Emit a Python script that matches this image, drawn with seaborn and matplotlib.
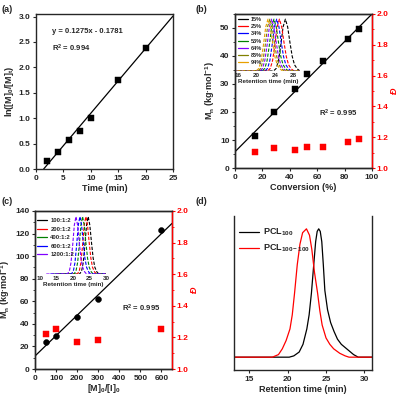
import numpy as np
import pandas as pd
import matplotlib
matplotlib.use("Agg")
import matplotlib.pyplot as plt
from matplotlib.lines import Line2D
from matplotlib.ticker import MultipleLocator
import seaborn as sns

# ---------------- data ----------------
# (a) kinetics
time_min = [2, 4, 6, 8, 10, 15, 20]
ln_m0_mt = [0.15, 0.33, 0.57, 0.74, 1.00, 1.75, 2.38]
fit_a_x = [1.4, 25]
fit_a_y = [0.1275 * 1.4 - 0.1781, 0.1275 * 25 - 0.1781]

# (b) Mn & dispersity vs conversion
conv = [14.6, 28.5, 43.8, 52.3, 64.0, 82.3, 90.5]
mn_b = [11.5, 20.1, 28.2, 33.6, 38.2, 46.2, 49.5]
disp_b = [1.106, 1.13, 1.119, 1.138, 1.138, 1.171, 1.19]
fit_b_x = [0, 100]
fit_b_y = [5.8, 55.0]

# (b) inset GPC traces
inset_b_labels = ["15%", "25%", "34%", "53%", "64%", "83%", "94%"]
inset_b_colors = ["black", "red", "blue", "green", "#8000ff", "#808000", "#e8a000"]
inset_b_peaks = [26.3, 25.0, 24.4, 23.8, 23.3, 22.9, 22.5]

# (c) Mn & dispersity vs [M]0/[I]0
ratio = [50, 100, 200, 300, 600]
mn_c = [24.2, 29.5, 45.8, 62.3, 123.4]
disp_c = [1.223, 1.253, 1.173, 1.184, 1.253]
fit_c_x = [0, 650]
fit_c_y = [11.5, 129.0]

inset_c_labels = ["100:1:2", "200:1:2", "400:1:2", "600:1:2", "1200:1:2"]
inset_c_colors = ["black", "red", "green", "blue", "#8000ff"]
inset_c_peaks = [24.6, 23.9, 22.9, 22.1, 20.9]

# shared normalised GPC peak profile
prof_dx = [-9, -2.6, -2.0, -1.5, -1.0, -0.5, 0.0, 0.5, 1.0, 1.5, 2.0, 2.6, 3.2, 9]
prof_y = [0, 0, 0.05, 0.2, 0.5, 0.85, 1.0, 0.85, 0.55, 0.28, 0.12, 0.04, 0, 0]

# (d) GPC traces
t_pcl100 = [13, 20.2, 20.8, 21.5, 22.0, 22.5, 22.8, 23.1, 23.4, 23.65, 23.85, 24.05,
            24.25, 24.45, 24.65, 24.85, 25.2, 25.6, 26.05, 26.5, 27.0, 27.8, 28.6, 29.2, 31]
y_pcl100 = [0, 0, 0.01, 0.04, 0.10, 0.22, 0.33, 0.5, 0.72, 0.9, 0.98, 1.0,
            0.98, 0.9, 0.72, 0.52, 0.37, 0.27, 0.2, 0.14, 0.1, 0.06, 0.02, 0, 0]
t_pcl200 = [13, 18.0, 18.8, 19.3, 19.8, 20.3, 20.6, 20.9, 21.25, 21.6, 21.95, 22.45,
            22.85, 23.15, 23.5, 23.9, 24.2, 24.5, 25.0, 25.5, 26.0, 26.8, 27.5, 28.0, 31]
y_pcl200 = [0, 0, 0.02, 0.065, 0.13, 0.22, 0.33, 0.5, 0.72, 0.88, 0.97, 1.0,
            0.95, 0.84, 0.66, 0.5, 0.36, 0.25, 0.15, 0.1, 0.065, 0.03, 0.01, 0, 0]

# ---------------- style ----------------
sns.set_style("ticks")
plt.rcParams["font.family"] = ["Liberation Sans", "DejaVu Sans"]
plt.rcParams["font.weight"] = "bold"
plt.rcParams["axes.labelweight"] = "bold"
plt.rcParams["xtick.direction"] = "out"
plt.rcParams["ytick.direction"] = "out"
plt.rcParams["axes.linewidth"] = 1.0
plt.rcParams["mathtext.default"] = "regular"

W, H = 400, 395
fig = plt.figure(figsize=(W / 100, H / 100), dpi=100)


def px_axes(left, right, top, bottom):
    return fig.add_axes([left / W, 1 - bottom / H, (right - left) / W, (bottom - top) / H])


TICK_FS = 6
LAB_FS = 6.5


def style_ax(ax):
    ax.tick_params(labelsize=TICK_FS, length=2.5, width=0.8, pad=1.5)
    ax.tick_params(which="minor", length=1.5, width=0.6)
    for lab in ax.get_xticklabels() + ax.get_yticklabels():
        lab.set_fontweight("bold")


# ---------------- (a) ----------------
axa = px_axes(36, 173, 14, 169)
sns.lineplot(x=fit_a_x, y=fit_a_y, ax=axa, color="black", lw=0.9)
sns.scatterplot(x=time_min, y=ln_m0_mt, ax=axa, marker="s", color="black", s=16, edgecolor="black")
axa.set_xlim(0, 25)
axa.set_ylim(0, 3.05)
axa.xaxis.set_major_locator(MultipleLocator(5))
axa.yaxis.set_major_locator(MultipleLocator(0.5))
axa.set_xlabel("Time (min)", fontsize=LAB_FS, labelpad=1.5)
axa.set_ylabel("ln([M]$_0$/[M]$_t$)", fontsize=LAB_FS, labelpad=2)
axa.text(2.9, 2.71, "y = 0.1275x - 0.1781", fontsize=5.5, fontweight="bold", va="center")
axa.text(2.9, 2.38, "R$^2$ = 0.994", fontsize=5.5, fontweight="bold", va="center")
style_ax(axa)

# ---------------- (b) ----------------
axb = px_axes(235, 372, 14, 168)
sns.lineplot(x=fit_b_x, y=fit_b_y, ax=axb, color="black", lw=0.9)
sns.scatterplot(x=conv, y=mn_b, ax=axb, marker="s", color="black", s=16, edgecolor="black", zorder=3)
axb.set_xlim(0, 100)
axb.set_ylim(0, 55)
axb.xaxis.set_major_locator(MultipleLocator(20))
axb.yaxis.set_major_locator(MultipleLocator(10))
axb.yaxis.set_minor_locator(MultipleLocator(5))
axb.set_xlabel("Conversion (%)", fontsize=LAB_FS, labelpad=1.5)
axb.set_ylabel("$M_n$ (kg·mol$^{-1}$)", fontsize=LAB_FS, labelpad=2)
axb.text(61, 19.6, "R$^2$ = 0.995", fontsize=5.5, fontweight="bold", va="center")
style_ax(axb)
axb2 = axb.twinx()
sns.scatterplot(x=conv, y=disp_b, ax=axb2, marker="s", color="red", s=16, edgecolor="red")
axb2.set_ylim(1.0, 2.0)
axb2.yaxis.set_major_locator(MultipleLocator(0.2))
axb2.yaxis.set_minor_locator(MultipleLocator(0.1))
axb2.set_ylabel("Đ", fontsize=LAB_FS, color="red", style="italic", labelpad=0.5)
axb2.spines["right"].set_color("red")
axb2.tick_params(axis="y", colors="red", which="both")
style_ax(axb2)
axb2.tick_params(axis="y", pad=1)
axb2.set_xlim(0, 100)

# (b) inset
axbi = px_axes(236, 300, 15, 71)
for lab, col, pk in zip(inset_b_labels, inset_b_colors, inset_b_peaks):
    xs = [pk + d for d in prof_dx]
    sns.lineplot(x=xs, y=prof_y, ax=axbi, color=col, lw=0.8, linestyle=(0, (3, 1.5)))
axbi.set_xlim(15.5, 29.5)
axbi.set_ylim(0, 1.08)
axbi.set_xticks([16, 20, 24, 28])
axbi.set_yticks([])
for s in axbi.spines.values():
    s.set_visible(False)
axbi.patch.set_alpha(0)
axbi.tick_params(axis="x", length=0, labelsize=4.5, pad=1.5)
axbi.set_xlabel("Retention time (min)", fontsize=4.5, labelpad=1)
hb = [Line2D([], [], color=c, lw=0.9) for c in inset_b_colors]
axbi.legend(hb, inset_b_labels, loc="upper left", bbox_to_anchor=(-0.02, 1.02), frameon=False,
            fontsize=4.0, handlelength=1.8, labelspacing=0.38, handletextpad=0.5, borderpad=0.1)

# ---------------- (c) ----------------
axc = px_axes(35, 172, 211, 369)
sns.lineplot(x=fit_c_x, y=fit_c_y, ax=axc, color="black", lw=0.9)
sns.scatterplot(x=ratio, y=mn_c, ax=axc, marker="o", color="black", s=18, edgecolor="black", zorder=3)
axc.set_xlim(0, 650)
axc.set_ylim(0, 140)
axc.xaxis.set_major_locator(MultipleLocator(100))
axc.yaxis.set_major_locator(MultipleLocator(20))
axc.yaxis.set_minor_locator(MultipleLocator(10))
axc.set_xlabel("[M]$_0$/[I]$_0$", fontsize=LAB_FS, labelpad=0.5)
axc.set_ylabel("$M_n$ (kg·mol$^{-1}$)", fontsize=LAB_FS, labelpad=2)
axc.text(413, 54, "R$^2$ = 0.995", fontsize=5.5, fontweight="bold", va="center")
style_ax(axc)
axc2 = axc.twinx()
sns.scatterplot(x=ratio, y=disp_c, ax=axc2, marker="s", color="red", s=16, edgecolor="red")
axc2.set_ylim(1.0, 2.0)
axc2.yaxis.set_major_locator(MultipleLocator(0.2))
axc2.yaxis.set_minor_locator(MultipleLocator(0.1))
axc2.set_ylabel("Đ", fontsize=LAB_FS, color="red", style="italic", labelpad=0.5)
axc2.spines["right"].set_color("red")
axc2.tick_params(axis="y", colors="red", which="both")
style_ax(axc2)
axc2.tick_params(axis="y", pad=1)
axc2.set_xlim(0, 650)

# (c) inset
axci = px_axes(40, 106, 212, 274)
for lab, col, pk in zip(inset_c_labels, inset_c_colors, inset_c_peaks):
    xs = [pk + d for d in prof_dx]
    sns.lineplot(x=xs, y=prof_y, ax=axci, color=col, lw=0.8, linestyle=(0, (3, 1.5)))
axci.set_xlim(10, 30)
axci.set_ylim(0, 1.08)
axci.set_xticks([10, 15, 20, 25, 30])
axci.set_yticks([])
for s in axci.spines.values():
    s.set_visible(False)
axci.patch.set_alpha(0)
axci.tick_params(axis="x", length=0, labelsize=4.5, pad=1.5)
axci.set_xlabel("Retention time (min)", fontsize=4.5, labelpad=1)
hc = [Line2D([], [], color=c, lw=0.9) for c in inset_c_colors]
axci.legend(hc, inset_c_labels, loc="upper left", bbox_to_anchor=(-0.1, 0.96), frameon=False,
            fontsize=4.2, handlelength=1.8, labelspacing=0.6, handletextpad=0.5, borderpad=0.1)

# ---------------- (d) ----------------
axd = px_axes(234, 372, 216, 370)
sns.lineplot(x=t_pcl100, y=y_pcl100, ax=axd, color="black", lw=0.9, label="PCL$_{100}$")
sns.lineplot(x=t_pcl200, y=y_pcl200, ax=axd, color="red", lw=0.9, label="PCL$_{100-100}$")
axd.set_xlim(13, 31)
axd.set_ylim(-0.1, 1.1)
axd.set_yticks([])
axd.xaxis.set_major_locator(MultipleLocator(5))
axd.spines["top"].set_visible(False)
axd.set_xlabel("Retention time (min)", fontsize=LAB_FS, labelpad=1.5)
style_ax(axd)
leg = axd.legend(loc="upper left", bbox_to_anchor=(-0.01, 0.97), frameon=False, fontsize=6.5,
                 handlelength=2.2, labelspacing=0.5, handletextpad=0.5, borderpad=0.2)
for t in leg.get_texts():
    t.set_fontweight("bold")

# panel labels
for lbl, x, y in [("(a)", 2, 10), ("(b)", 196, 10), ("(c)", 2, 202), ("(d)", 196, 202)]:
    fig.text(x / W, 1 - y / H, lbl, fontsize=6.5, fontweight="bold", va="center", ha="left")

fig.savefig("out.png", dpi=100)
